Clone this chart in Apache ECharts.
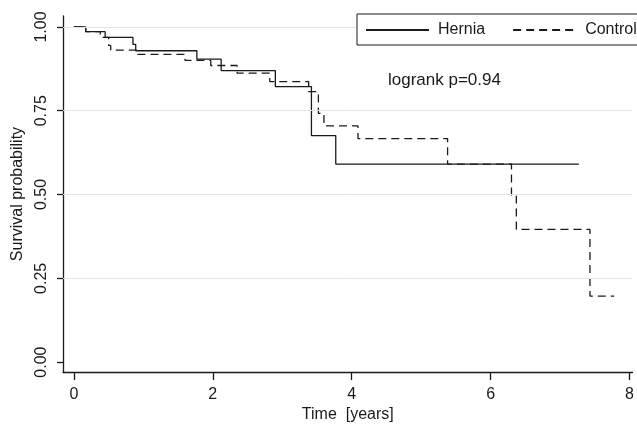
<!DOCTYPE html>
<html>
<head>
<meta charset="utf-8">
<script src="https://cdn.jsdelivr.net/npm/echarts@6/dist/echarts.min.js"></script>
<style>
html,body{margin:0;padding:0;background:#fff;}
#chart{width:637px;height:428px;}
</style>
</head>
<body>
<div id="chart"></div>
<script>
// Kaplan-Meier step data (time in years, survival probability)
const herniaTime = [0, 0.17, 0.45, 0.85, 0.89, 1.77, 2.12, 2.90, 3.42, 3.77, 7.27];
const herniaSurv = [1.000, 0.986, 0.969, 0.948, 0.929, 0.904, 0.870, 0.822, 0.676, 0.591, 0.591];
const controlTime = [0, 0.17, 0.38, 0.50, 0.53, 0.92, 1.60, 1.97, 2.35, 2.82, 3.38, 3.52, 3.60, 4.09, 5.38, 6.30, 6.37, 7.43, 7.78];
const controlSurv = [1.000, 0.986, 0.969, 0.945, 0.931, 0.918, 0.900, 0.885, 0.862, 0.837, 0.807, 0.742, 0.705, 0.667, 0.591, 0.495, 0.396, 0.197, 0.197];
const seriesNames = ['Hernia', 'Control'];
const xTicks = [0, 2, 4, 6, 8];
const yTicks = [0, 0.25, 0.5, 0.75, 1];
const gridValues = [0.25, 0.5, 0.75, 1];
const annotation = 'logrank p=0.94';
const xTitle = 'Time  [years]';
const yTitle = 'Survival probability';

const FONT = 'Liberation Sans, Arial, sans-serif';
const INK = '#1a1a1a';

function pairs(t, s) { return t.map((v, i) => [v, s[i]]); }

const chart = echarts.init(document.getElementById('chart'), null, {renderer: 'canvas'});
chart.setOption({
  animation: false,
  backgroundColor: '#ffffff',
  title: {
    text: annotation,
    left: 383, top: 67,
    textStyle: {fontFamily: FONT, fontSize: 17, fontWeight: 'normal', color: INK}
  },
  legend: {
    data: seriesNames,
    left: 357, top: 14,
    width: 500,
    orient: 'horizontal',
    padding: [8, 8, 7, 8],
    itemWidth: 63, itemHeight: 14, itemGap: 27,
    borderColor: INK, borderWidth: 1, borderRadius: 0,
    backgroundColor: '#fff',
    z: 10,
    itemStyle: {opacity: 0},
    textStyle: {fontFamily: FONT, fontSize: 16, color: INK, padding: [0, 0, 0, 4]}
  },
  grid: {left: 63, right: 0, top: 16, bottom: 55, containLabel: false},
  xAxis: {
    type: 'value',
    min: -0.157, max: 8.043,
    name: xTitle, nameLocation: 'middle', nameGap: 30,
    nameTextStyle: {fontFamily: FONT, fontSize: 16, color: INK},
    axisLine: {show: true, onZero: false, lineStyle: {color: INK, width: 1.3}},
    axisTick: {show: true, customValues: xTicks, length: 8, lineStyle: {color: INK, width: 1.3}},
    axisLabel: {customValues: xTicks, margin: 14, fontFamily: FONT, fontSize: 16, color: INK},
    splitLine: {show: false}
  },
  yAxis: {
    type: 'value',
    min: -0.0298, max: 1.0327,
    name: yTitle, nameLocation: 'middle', nameGap: 37, nameRotate: 90,
    nameTextStyle: {fontFamily: FONT, fontSize: 16, color: INK},
    axisLine: {show: true, onZero: false, lineStyle: {color: INK, width: 1.3}},
    axisTick: {show: true, customValues: yTicks, length: 6, lineStyle: {color: INK, width: 1.3}},
    axisLabel: {customValues: yTicks, rotate: 90, margin: 13, fontFamily: FONT, fontSize: 16, color: INK,
      formatter: v => v.toFixed(2)},
    splitLine: {show: false}
  },
  series: [
    {
      name: '__grid', type: 'line', data: [], z: 1, silent: true,
      markLine: {
        silent: true, symbol: 'none', label: {show: false},
        lineStyle: {color: '#e3e3e3', type: 'solid', width: 1},
        data: gridValues.map(v => ({yAxis: v}))
      }
    },
    {
      name: seriesNames[0], type: 'line', step: 'end', showSymbol: false, symbol: 'none', z: 3,
      data: pairs(herniaTime, herniaSurv),
      lineStyle: {color: INK, width: 1.3, type: 'solid'},
      itemStyle: {color: INK}
    },
    {
      name: seriesNames[1], type: 'line', step: 'end', showSymbol: false, symbol: 'none', z: 2,
      data: pairs(controlTime, controlSurv),
      lineStyle: {color: INK, width: 1.3, type: [8, 5]},
      itemStyle: {color: INK}
    }
  ]
});
</script>
</body>
</html>
